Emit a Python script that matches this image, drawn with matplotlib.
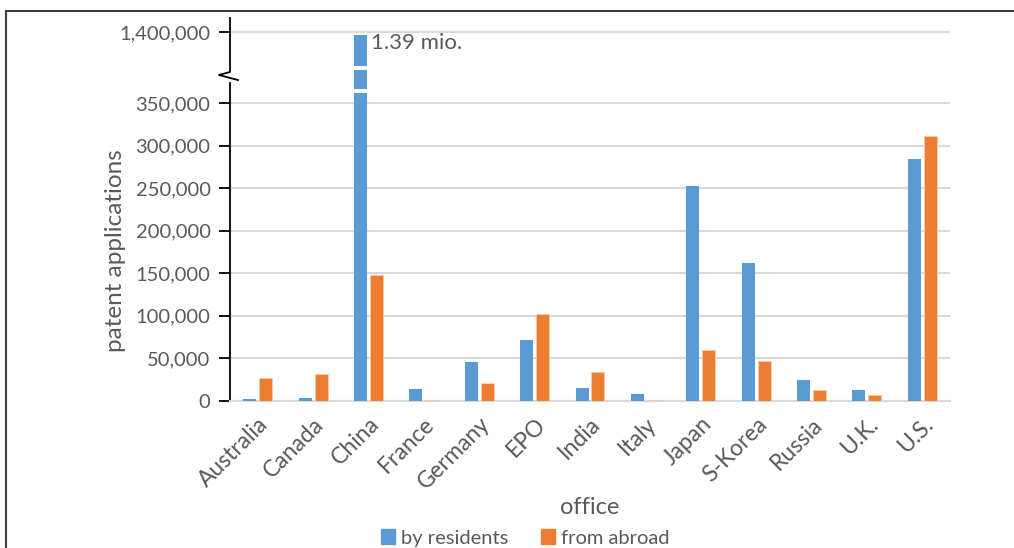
import numpy as np
import matplotlib.pyplot as plt
from matplotlib.lines import Line2D
from matplotlib.patches import Patch
from matplotlib.ticker import FuncFormatter

plt.rcParams['font.family'] = ['Lato', 'DejaVu Sans']

# Data (patent applications by office)
offices = ['Australia', 'Canada', 'China', 'France', 'Germany', 'EPO', 'India',
           'Italy', 'Japan', 'S-Korea', 'Russia', 'U.K.', 'U.S.']
by_residents = [2400, 3500, 1390000, 14200, 46000, 72000, 15300,
                8200, 252600, 162200, 24700, 12900, 284400]
from_abroad = [26800, 31500, 148000, 1200, 20900, 102400, 33500,
               700, 60000, 47000, 12600, 7400, 311400]
y_ticks = [0, 50000, 100000, 150000, 200000, 250000, 300000, 350000, 1400000]

BLUE = '#5b9bd5'
ORANGE = '#ed7d31'
GREY_TXT = '#595959'
GRID = '#d9d9d9'

# broken y scale: lower part linear up to LOW_MAX, upper part starts at HIGH_MIN
LOW_MAX = 373500
HIGH_MIN = 1230000
Y_TOP = 1446700
_vals = [-1e7, 0, LOW_MAX, HIGH_MIN, Y_TOP, 1e8]
_pix = [-8514, 0, 318, 318.001, 383, 383 + (1e8 - Y_TOP) * 0.0003]


def fwd(v):
    return np.interp(v, _vals, _pix)


def inv(p):
    return np.interp(p, _pix, _vals)


fig = plt.figure(figsize=(10.14, 5.48), dpi=100)
ax = fig.add_axes([230 / 1014, 1 - 401 / 548, 720 / 1014, 383 / 548])
ax.set_yscale('function', functions=(fwd, inv))
ax.set_ylim(0, Y_TOP)

x = np.arange(len(offices))
w = 0.235
off = 0.144
ax.bar(x - off, by_residents, w, color=BLUE, zorder=3)
ax.bar(x + off, from_abroad, w, color=ORANGE, edgecolor='#f8cbad', linewidth=0.6, zorder=3)

# white cuts through the China bar
ci = offices.index('China')
for lo, hi in [(1273300, 1286700), (362300, 366500)]:
    ax.bar(ci - off, hi - lo, w + 0.04, bottom=lo, color='white', zorder=4)
ax.text(ci - off + w / 2 + 0.07, 1362000, '1.39 mio.', color=GREY_TXT,
        fontsize=16, va='center', ha='left', zorder=5)

ax.set_xlim(-0.5, len(offices) - 0.5)
ax.set_xticks(x)
ax.set_xticklabels(offices, rotation=45, ha='right', rotation_mode='anchor')
ax.tick_params(axis='x', length=0, pad=9, labelsize=16.5, labelcolor=GREY_TXT)

ax.set_yticks(y_ticks)
ax.yaxis.set_major_formatter(FuncFormatter(lambda v, p: f'{int(v):,}'))
ax.yaxis.set_minor_locator(plt.NullLocator())
ax.tick_params(axis='y', direction='out', length=8, width=1.3, color='black',
               labelsize=14.5, labelcolor=GREY_TXT, pad=6)

ax.grid(axis='y', color=GRID, linewidth=1.5, zorder=0)
for s in ['top', 'right']:
    ax.spines[s].set_visible(False)
ax.spines['bottom'].set_color(GRID)
ax.spines['bottom'].set_linewidth(1.5)
ax.spines['left'].set_color('black')
ax.spines['left'].set_linewidth(1.3)
ax.spines['left'].set_bounds(0, LOW_MAX)

# upper axis segment and zigzag break
ax.plot([0, 0, -0.0153, 0.0111], [1.0, 0.859, 0.8512, 0.838],
        transform=ax.transAxes, color='black', lw=1.3, clip_on=False, zorder=5)

fig.text(115 / 1014, 1 - 251 / 548, 'patent applications', rotation=90,
         ha='center', va='center', fontsize=17.5, color=GREY_TXT)
fig.text(590 / 1014, 1 - 508 / 548, 'office', ha='center', va='center',
         fontsize=17, color=GREY_TXT)

handles = [Patch(color=BLUE, label='by residents'), Patch(color=ORANGE, label='from abroad')]
leg = fig.legend(handles=handles, loc='center', bbox_to_anchor=(525 / 1014, 1 - 538 / 548),
                 ncol=2, frameon=False, fontsize=14.5, handlelength=0.7, handleheight=0.7,
                 handletextpad=0.3, columnspacing=1.6, labelcolor=GREY_TXT)

# outer frame lines (top and left)
fig.add_artist(Line2D([6 / 1014, 1], [1 - 11 / 548, 1 - 11 / 548], transform=fig.transFigure,
                      color='#404040', lw=1.5))
fig.add_artist(Line2D([6 / 1014, 6 / 1014], [0, 1 - 11 / 548], transform=fig.transFigure,
                      color='#404040', lw=1.5))

fig.savefig('out.png', dpi=100)
